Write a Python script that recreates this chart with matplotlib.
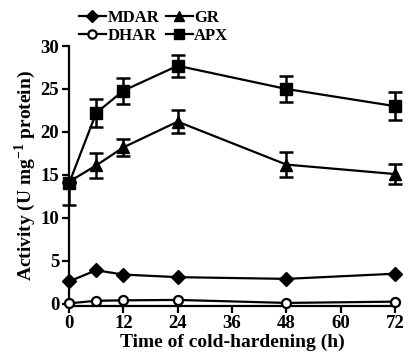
import matplotlib
matplotlib.use("Agg")
import matplotlib.pyplot as plt
from matplotlib.lines import Line2D

plt.rcParams['font.family'] = ['Liberation Serif', 'DejaVu Serif']
plt.rcParams['font.weight'] = 'bold'
plt.rcParams['mathtext.fontset'] = 'custom'
plt.rcParams['mathtext.rm'] = 'Liberation Serif:bold'

hours = [0, 6, 12, 24, 48, 72]

mdar = [2.6, 3.9, 3.4, 3.1, 2.9, 3.5]
dhar = [0.05, 0.35, 0.4, 0.45, 0.1, 0.25]
gr = [14.2, 16.1, 18.2, 21.2, 16.2, 15.1]
gr_err = [0.0, 1.5, 1.0, 1.35, 1.45, 1.15]
apx = [14.0, 22.2, 24.8, 27.7, 25.0, 23.0]
apx_err_low = [2.5, 1.6, 1.5, 1.3, 1.5, 1.6]
apx_err_high = [0.0, 1.6, 1.5, 1.3, 1.5, 1.6]

fig = plt.figure(figsize=(4.09, 3.64), dpi=100)
ax = fig.add_axes([0.1687, 0.1607, 0.7971, 0.7129])

lw = 1.6
ax.plot(hours, mdar, color='black', lw=lw, marker='D', ms=7, clip_on=False, zorder=3)
ax.plot(hours, dhar, color='black', lw=lw, marker='o', ms=6.5, mfc='white',
        mew=1.6, clip_on=False, zorder=4)
ax.errorbar(hours, gr, yerr=gr_err, color='black', lw=lw, marker='^', ms=8,
            capsize=5, capthick=1.8, elinewidth=1.8, clip_on=False, zorder=3)
ax.errorbar(hours, apx, yerr=[apx_err_low, apx_err_high], color='black', lw=lw,
            marker='s', ms=8, capsize=5, capthick=1.8, elinewidth=1.8,
            clip_on=False, zorder=3)

ax.set_xlim(0, 72)
ax.set_ylim(-0.2, 30)
ax.set_xticks([0, 12, 24, 36, 48, 60, 72])
ax.set_yticks([0, 5, 10, 15, 20, 25, 30])
ax.spines['top'].set_visible(False)
ax.spines['right'].set_visible(False)
ax.spines['left'].set_linewidth(1.6)
ax.spines['bottom'].set_linewidth(1.6)
ax.spines['left'].set_bounds(-0.2, 30)
ax.tick_params(width=1.6, length=5, labelsize=13.5, pad=2)

ax.set_xlabel('Time of cold-hardening (h)', fontsize=14, fontweight='bold', labelpad=1)
ax.set_ylabel('Activity (U mg$^{-1}$ protein)', fontsize=14, fontweight='bold', labelpad=2)

handles = [
    Line2D([], [], color='black', lw=lw, marker='D', ms=6),
    Line2D([], [], color='black', lw=lw, marker='o', ms=6, mfc='white', mew=1.6),
    Line2D([], [], color='black', lw=lw, marker='^', ms=7),
    Line2D([], [], color='black', lw=lw, marker='s', ms=7),
]
labels = ['MDAR', 'DHAR', 'GR', 'APX']
fig.legend(handles, labels, ncol=2, loc='upper left', bbox_to_anchor=(0.165, 1.005),
           frameon=False, handlelength=1.6, handletextpad=0.1,
           columnspacing=0.4, labelspacing=0.1, borderpad=0.2,
           prop={'weight': 'bold', 'size': 12})

fig.savefig('out.png', dpi=100)
